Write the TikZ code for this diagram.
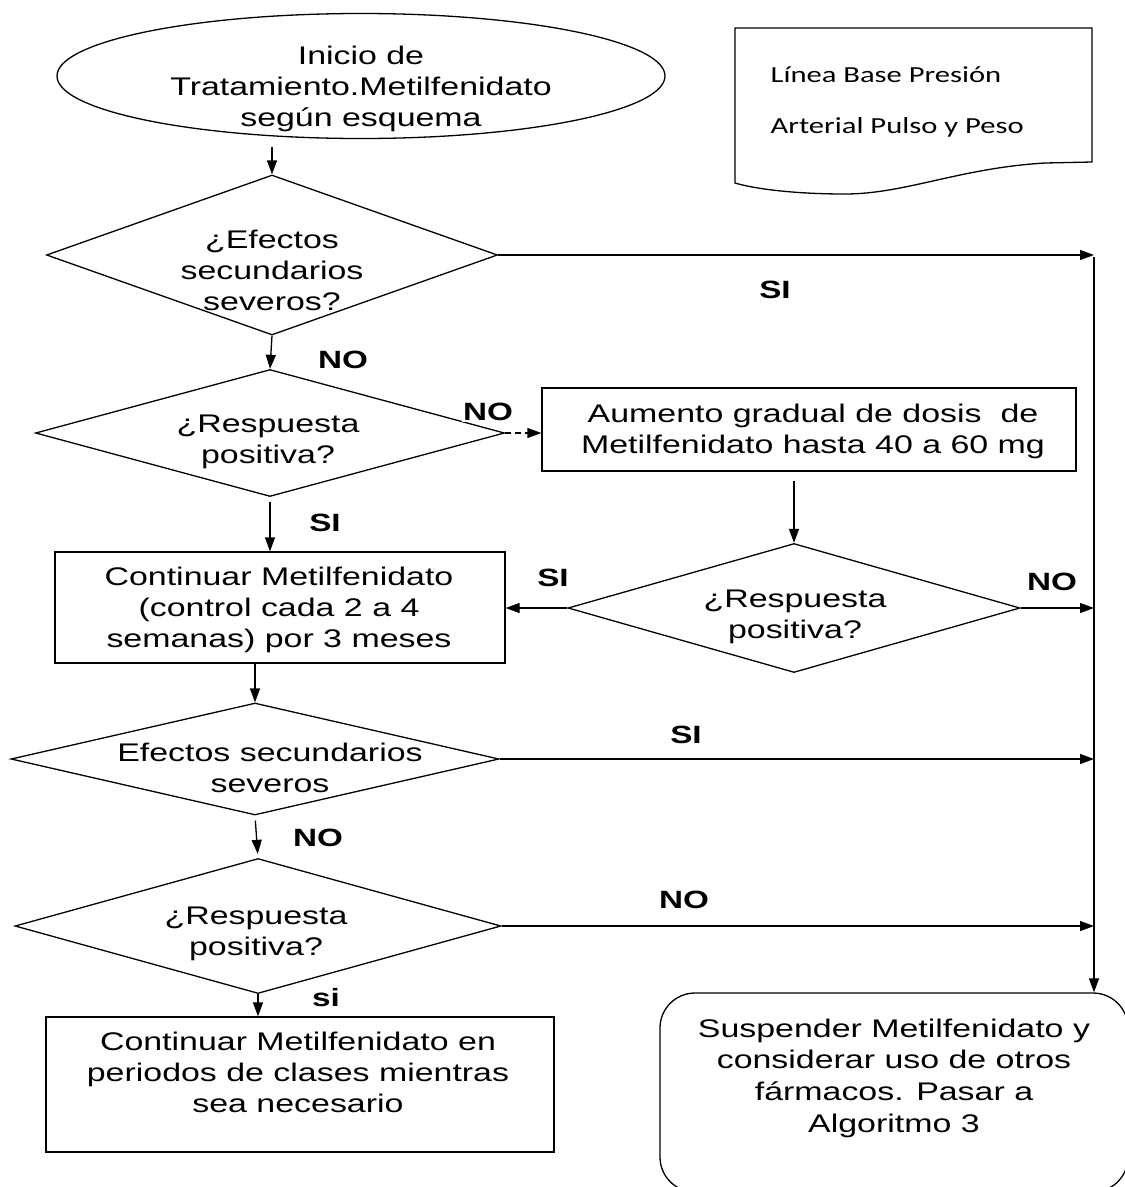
\documentclass[tikz,border=0pt]{standalone}
\usepackage{fontspec}
\setmainfont{Liberation Sans}[FakeStretch=1.33]
\newfontfamily\docfont{Carlito}[FakeStretch=1.33]
\usetikzlibrary{shapes.geometric, arrows.meta, calc}

\begin{document}
\begin{tikzpicture}[x=1pt, y=-1pt,
  line width=1.3pt,
  txt/.style={align=center, inner sep=0pt, font=\fontsize{25.5}{31}\selectfont},
  lbl/.style={inner sep=1pt, font=\bfseries\fontsize{25}{30}\selectfont},
  dec/.style={draw, diamond, inner sep=0pt},
  proc/.style={draw, rectangle, inner sep=0pt},
  arr/.style={-{Triangle[length=14pt,width=10pt]}},
  doctxt/.style={inner sep=0pt, anchor=base west, font=\docfont\fontsize{23}{28}\selectfont},
]
\useasboundingbox (0,0) rectangle (1125,1187);
\clip (0,0) rectangle (1125,1187);

% start terminal
\node[draw, ellipse, minimum width=608pt, minimum height=125pt, inner sep=0pt] (start) at (361,76) {};
\node[txt] (starttxt) at (361,89) {Inicio de\\Tratamiento.Metilfenidato\\según esquema};

% baseline document
\draw (735,28) -- (1092,28) -- (1092,162) -- (1045,163)
  .. controls (960,168) and (905,194) .. (845,194)
  .. controls (795,194) and (755,189) .. (735,183) -- cycle;
\node[doctxt] (doc1) at (770,82) {Línea Base Presión};
\node[doctxt] (doc2) at (770,133) {Arterial Pulso y Peso};

% decisions and processes
\node[dec, minimum width=451pt, minimum height=160pt] (q1) at (272,255) {};
\node[txt] (q1txt) at (272,270) {¿Efectos\\secundarios\\severos?};

\node[dec, minimum width=469pt, minimum height=127pt] (q2) at (270,433) {};
\node[txt] (q2txt) at (268,442) {¿Respuesta\\positiva?};

\node[proc, minimum width=534pt, minimum height=83pt] (inc) at (809,429.5) {};
\node[txt] (inctxt) at (813,431) {Aumento gradual de dosis\ \ de\\Metilfenidato hasta 40 a 60 mg};

\node[dec, minimum width=452pt, minimum height=129pt] (q3) at (794,608) {};
\node[txt] (q3txt) at (795,617) {¿Respuesta\\positiva?};

\node[proc, minimum width=450pt, minimum height=111pt] (cont) at (280,607.5) {};
\node[txt] (conttxt) at (279,609.5) {Continuar Metilfenidato\\(control cada 2 a 4\\semanas) por 3 meses};

\node[dec, minimum width=488pt, minimum height=112pt] (q4) at (255,759) {};
\node[txt] (q4txt) at (270,768) {Efectos secundarios\\severos};

\node[dec, minimum width=486pt, minimum height=135pt] (q5) at (258,926) {};
\node[txt] (q5txt) at (256,934) {¿Respuesta\\positiva?};

\node[proc, minimum width=508pt, minimum height=135pt] (fin) at (300,1084.5) {};
\node[txt] (fintxt) at (298,1072) {Continuar Metilfenidato en\\periodos de clases mientras\\sea necesario};

\node[draw, rounded corners=35pt, minimum width=468pt, minimum height=199pt, inner sep=0pt] (sus) at (894,1092.5) {};
\node[txt, font=\fontsize{25.5}{31.7}\selectfont] (sustxt) at (894,1078) {Suspender Metilfenidato y\\considerar uso de otros\\fármacos. Pasar a\\Algoritmo 3};

% collecting line on the right
\coordinate (rail) at (1094,257);

% connectors
\draw[arr, shorten <=8pt] (start.south -| q1.north) -- (q1.north);
\draw[arr] (q1.east) -- (q1.east -| rail);
\draw[arr] (rail) -- (rail |- sus.north);
\draw[arr] (q1.south) -- (q2.north);
\draw[arr, dash pattern=on 6pt off 4pt] (q2.east) -- (q2.east -| inc.west);
\draw[arr, shorten <=5pt] (q2.south) -- (q2.south |- cont.north);
\draw[arr, shorten <=9pt] (inc.south -| q3.north) -- (q3.north);
\draw[arr] (q3.west) -- (q3.west -| cont.east);
\draw[arr] (q3.east) -- (q3.east -| rail);
\draw[arr] (cont.south -| q4.north) -- (q4.north);
\draw[arr] (q4.east) -- (q4.east -| rail);
\draw[arr, shorten <=5pt, shorten >=4pt] (q4.south) -- (q5.north);
\draw[arr] (q5.east) -- (q5.east -| rail);
\draw[arr] (q5.south) -- (q5.south |- fin.north);

% branch labels
\node[lbl] (l1) at (775,290) {SI};
\node[lbl] (l2) at (343,360) {NO};
\node[lbl, fill=white] (l3) at (488,412) {NO};
\node[lbl] (l4) at (325,523) {SI};
\node[lbl] (l5) at (553,578) {SI};
\node[lbl] (l6) at (1052,582) {NO};
\node[lbl] (l7) at (686,735) {SI};
\node[lbl] (l8) at (318,838) {NO};
\node[lbl] (l9) at (684,900) {NO};
\node[lbl] (l10) at (326,998) {si};
\end{tikzpicture}
\end{document}
